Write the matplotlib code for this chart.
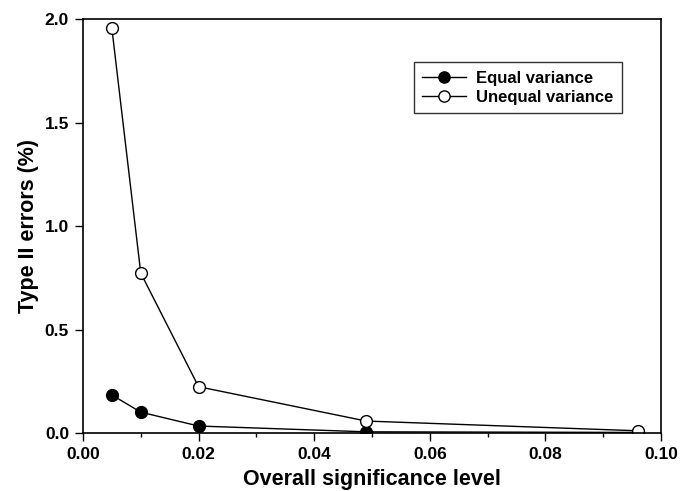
import matplotlib
matplotlib.use('Agg')
import matplotlib.pyplot as plt
from matplotlib.ticker import MultipleLocator

plt.rcParams['font.family'] = ['Liberation Sans', 'DejaVu Sans']
plt.rcParams['font.weight'] = 'bold'

# significance levels and type II errors (%)
alpha = [0.005, 0.01, 0.02, 0.049, 0.096]
equal_var = [0.184, 0.101, 0.034, 0.006, 0.003]
unequal_var = [1.956, 0.773, 0.224, 0.058, 0.011]

fig = plt.figure(figsize=(6.8, 4.91), dpi=100)
ax = fig.add_axes([0.122, 0.118, 0.850, 0.843])

ax.plot(alpha, equal_var, color='black', lw=1.0, marker='o', ms=8.5,
        mfc='black', mec='black', label='Equal variance')
ax.plot(alpha, unequal_var, color='black', lw=1.0, marker='o', ms=8.5,
        mfc='white', mec='black', label='Unequal variance')

ax.set_xlim(0, 0.10)
ax.set_ylim(0, 2.0)
ax.xaxis.set_major_locator(MultipleLocator(0.02))
ax.xaxis.set_minor_locator(MultipleLocator(0.01))
ax.yaxis.set_major_locator(MultipleLocator(0.5))
ax.xaxis.set_major_formatter(plt.FuncFormatter(lambda v, p: f'{v:.2f}'))
ax.yaxis.set_major_formatter(plt.FuncFormatter(lambda v, p: f'{v:.1f}'))
ax.tick_params(which='major', direction='out', length=6, width=1, labelsize=12.5)
ax.tick_params(axis='x', which='major', pad=4)
ax.tick_params(axis='y', which='major', pad=4)
ax.tick_params(which='minor', direction='out', length=3, width=1)
for lbl in ax.get_xticklabels() + ax.get_yticklabels():
    lbl.set_fontweight('bold')
for s in ax.spines.values():
    s.set_linewidth(1.2)

ax.set_xlabel('Overall significance level', fontsize=15.5, fontweight='bold', labelpad=5)
ax.set_ylabel('Type II errors (%)', fontsize=15.5, fontweight='bold', labelpad=4)

leg = ax.legend(loc='upper left', bbox_to_anchor=(0.573, 0.896), borderaxespad=0,
                frameon=True, fancybox=False, edgecolor='black', fontsize=12,
                handlelength=2.6, handletextpad=0.6, borderpad=0.5,
                labelspacing=0.25, markerscale=0.95)
leg.get_frame().set_linewidth(1.0)
for t in leg.get_texts():
    t.set_fontweight('bold')

fig.savefig('out.png', dpi=100)
